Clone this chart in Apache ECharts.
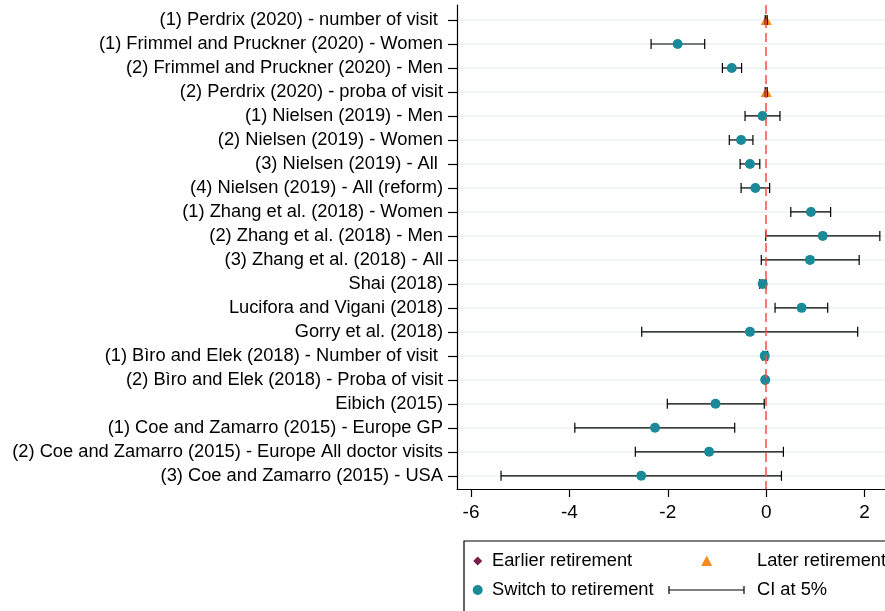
<!DOCTYPE html>
<html>
<head>
<meta charset="utf-8">
<script src="https://cdn.jsdelivr.net/npm/echarts@6/dist/echarts.min.js"></script>
<style>
  html, body { margin: 0; padding: 0; background: #fff; }
  #chart { width: 885px; height: 611px; }
</style>
</head>
<body>
<div id="chart"></div>
<script>
// study labels, top to bottom
const studies = [
  '(1) Perdrix (2020) - number of visit ',
  '(1) Frimmel and Pruckner (2020) - Women',
  '(2) Frimmel and Pruckner (2020) - Men',
  '(2) Perdrix (2020) - proba of visit',
  '(1) Nielsen (2019) - Men',
  '(2) Nielsen (2019) - Women',
  '(3) Nielsen (2019) - All ',
  '(4) Nielsen (2019) - All (reform)',
  '(1) Zhang et al. (2018) - Women',
  '(2) Zhang et al. (2018) - Men',
  '(3) Zhang et al. (2018) - All',
  'Shai (2018)',
  'Lucifora and Vigani (2018)',
  'Gorry et al. (2018)',
  '(1) Bìro and Elek (2018) - Number of visit ',
  '(2) Bìro and Elek (2018) - Proba of visit',
  'Eibich (2015)',
  '(1) Coe and Zamarro (2015) - Europe GP',
  '(2) Coe and Zamarro (2015) - Europe All doctor visits',
  '(3) Coe and Zamarro (2015) - USA'
];
// point estimates
const estimate = [0.0, -1.80, -0.70, 0.0, -0.075, -0.51, -0.33, -0.22, 0.91, 1.15, 0.89, -0.07, 0.72, -0.33, -0.03, -0.02, -1.03, -2.26, -1.16, -2.54];
// 5% CI bounds
const ciLow  = [-0.02, -2.34, -0.89, -0.02, -0.43, -0.75, -0.53, -0.51, 0.50, -0.01, -0.10, -0.13, 0.18, -2.53, -0.07, -0.03, -2.01, -3.89, -2.66, -5.39];
const ciHigh = [0.02, -1.25, -0.50, 0.02, 0.28, -0.27, -0.13, 0.07, 1.31, 2.31, 1.89, 0.00, 1.25, 1.86, 0.03, 0.00, -0.04, -0.64, 0.35, 0.31];
// kind of retirement effect
const kind = ['later', 'switch', 'switch', 'later', 'switch', 'switch', 'switch', 'switch', 'switch', 'switch',
              'switch', 'switch', 'switch', 'switch', 'switch', 'switch', 'switch', 'switch', 'switch', 'switch'];
const xTicks = [-6, -4, -2, 0, 2];

const rows = studies.map((s, i) => i + 1);
const FONT = '"Liberation Sans", Arial, sans-serif';

const switchData = [], laterData = [], earlierData = [];
estimate.forEach((v, i) => {
  if (kind[i] === 'switch') switchData.push([v, i + 1]);
  else if (kind[i] === 'later') laterData.push([v, i + 1]);
  else earlierData.push([v, i + 1]);
});
const ciData = rows.map((r, i) => [ciLow[i], ciHigh[i], r]);

const chart = echarts.init(document.getElementById('chart'));

const option = {
  animation: false,
  backgroundColor: '#fff',
  textStyle: { fontFamily: FONT },
  grid: { left: 457, top: 5, width: 428, height: 484, containLabel: false },
  xAxis: {
    type: 'value',
    min: -6.285,
    max: 2.415,
    axisLine: { show: true, onZero: false, lineStyle: { color: '#000', width: 1.2 } },
    axisTick: { show: true, length: 8, customValues: xTicks, lineStyle: { color: '#000', width: 1.2 } },
    axisLabel: { customValues: xTicks, margin: 14, fontSize: 19, color: '#000', fontFamily: FONT },
    splitLine: { show: false }
  },
  yAxis: {
    type: 'value',
    inverse: true,
    min: 0.375,
    max: 20.55,
    axisLine: { show: true, onZero: false, lineStyle: { color: '#000', width: 1.2 } },
    axisTick: { show: true, length: 9, customValues: rows, lineStyle: { color: '#000', width: 1.2 } },
    axisLabel: {
      customValues: rows,
      margin: 14,
      fontSize: 18.3,
      color: '#000',
      fontFamily: FONT,
      formatter: v => studies[Math.round(v) - 1] || ''
    },
    splitLine: { show: true, lineStyle: { color: '#eaf2f3', width: 1.6 } }
  },
  series: [
    {
      name: 'zero',
      type: 'scatter',
      data: [],
      silent: true,
      markLine: {
        silent: true,
        symbol: 'none',
        label: { show: false },
        lineStyle: { color: '#ff4a4a', type: [9, 5], width: 1.5 },
        data: [{ xAxis: 0 }]
      }
    },
    {
      name: 'CI at 5%',
      type: 'custom',
      data: ciData,
      z: 3,
      renderItem: function (params, api) {
        const a = api.coord([api.value(0), api.value(2)]);
        const b = api.coord([api.value(1), api.value(2)]);
        const h = 5;
        const st = { stroke: '#000', lineWidth: 1.2 };
        return {
          type: 'group',
          children: [
            { type: 'line', shape: { x1: a[0], y1: a[1], x2: b[0], y2: b[1] }, style: st },
            { type: 'line', shape: { x1: a[0], y1: a[1] - h, x2: a[0], y2: a[1] + h }, style: st },
            { type: 'line', shape: { x1: b[0], y1: b[1] - h, x2: b[0], y2: b[1] + h }, style: st }
          ]
        };
      }
    },
    {
      name: 'Switch to retirement',
      type: 'scatter',
      data: switchData,
      symbol: 'circle',
      symbolSize: 10,
      z: 4,
      itemStyle: { color: '#1a8a99', opacity: 1 }
    },
    {
      name: 'Later retirement',
      type: 'scatter',
      data: laterData,
      symbol: 'triangle',
      symbolSize: [11, 10],
      z: 2,
      itemStyle: { color: '#f68a1e', opacity: 1 }
    },
    {
      name: 'Earlier retirement',
      type: 'scatter',
      data: earlierData,
      symbol: 'diamond',
      symbolSize: 9,
      z: 4,
      itemStyle: { color: '#7a1c4c', opacity: 1 }
    }
  ],
  graphic: [
    { type: 'rect', shape: { x: 464, y: 541, width: 500, height: 120 }, style: { fill: '#fff', stroke: '#000', lineWidth: 1.2 } },
    { type: 'polygon', shape: { points: [[477.7, 556.5], [482.2, 561], [477.7, 565.5], [473.2, 561]] }, style: { fill: '#7a1c4c' } },
    { type: 'text', x: 492, y: 561, style: { text: 'Earlier retirement', font: '18.3px ' + FONT, fill: '#000', verticalAlign: 'middle' } },
    { type: 'polygon', shape: { points: [[706.7, 555.5], [712.2, 566], [701.2, 566]] }, style: { fill: '#f68a1e' } },
    { type: 'text', x: 757, y: 561, style: { text: 'Later retirement', font: '18.3px ' + FONT, fill: '#000', verticalAlign: 'middle' } },
    { type: 'circle', shape: { cx: 477.7, cy: 590, r: 5 }, style: { fill: '#1a8a99' } },
    { type: 'text', x: 492, y: 590, style: { text: 'Switch to retirement', font: '18.3px ' + FONT, fill: '#000', verticalAlign: 'middle' } },
    { type: 'polyline', shape: { points: [[669, 586], [669, 594]] }, style: { stroke: '#000', lineWidth: 1.2 } },
    { type: 'polyline', shape: { points: [[669, 590], [744, 590]] }, style: { stroke: '#000', lineWidth: 1.2 } },
    { type: 'polyline', shape: { points: [[744, 586], [744, 594]] }, style: { stroke: '#000', lineWidth: 1.2 } },
    { type: 'text', x: 757, y: 590, style: { text: 'CI at 5%', font: '18.3px ' + FONT, fill: '#000', verticalAlign: 'middle' } }
  ]
};

chart.setOption(option);
</script>
</body>
</html>
